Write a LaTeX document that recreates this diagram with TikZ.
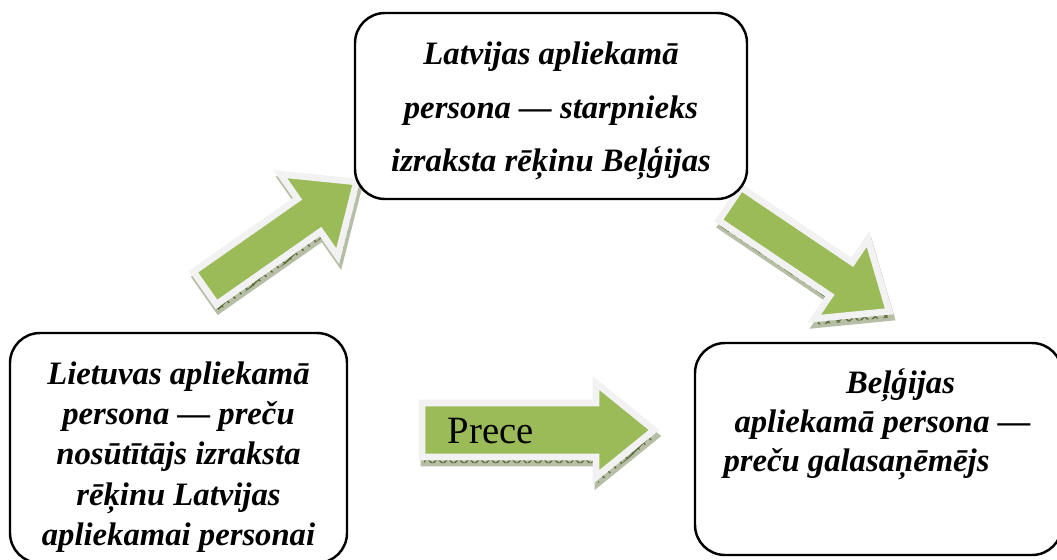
\documentclass[tikz,border=0pt]{standalone}
\usepackage{fontspec}
\setmainfont{Liberation Serif}
\usetikzlibrary{patterns}

\definecolor{arrowgreen}{HTML}{9BBB59}
\definecolor{arrowrim}{HTML}{F2F2F2}
\definecolor{shadegreen}{HTML}{5E6E3A}

\begin{document}
\begin{tikzpicture}[font=\fontsize{9.3}{10.8}\selectfont]

% Styles
\tikzset{
  frame/.style={draw, line width=0.7pt, rounded corners=0.3cm},
  partytext/.style={align=center, inner sep=0pt, font=\fontsize{9.3}{#1}\selectfont\bfseries\itshape},
  arrowbody/.style={fill=arrowgreen, draw=arrowrim, line width=1.9pt, line join=miter},
  arrowshade/.style={fill=shadegreen!45, draw=shadegreen!45, line width=1.9pt, line join=miter, postaction={pattern=crosshatch, pattern color=shadegreen}},
  pics/blockarrow/.style n args={4}{code={
    % #1 angle, #2 length, #3 shaft width, #4 head width
    \path[arrowshade, shift={(0.02,-0.06)}, rotate=#1]
      (0,-#3/2) -- (#2-0.58,-#3/2) -- (#2-0.58,-#4/2) -- (#2,0) -- (#2-0.58,#4/2) -- (#2-0.58,#3/2) -- (0,#3/2) -- cycle;
    \draw[arrowbody, rotate=#1]
      (0,-#3/2) -- (#2-0.58,-#3/2) -- (#2-0.58,-#4/2) -- (#2,0) -- (#2-0.58,#4/2) -- (#2-0.58,#3/2) -- (0,#3/2) -- cycle;
  }}
}

\useasboundingbox (0,0) rectangle (10.57,5.59);

% Arrows
\pic (toagent) at (2.05,2.71) {blockarrow={35}{1.85}{0.40}{1.00}};
\pic (tobuyer) at (7.30,3.55) {blockarrow={-34}{1.92}{0.40}{0.96}};
\pic (togoods) at (4.22,1.29) {blockarrow={0}{2.32}{0.54}{0.94}};
\node[anchor=base west, inner sep=0pt, font=\fontsize{11}{13}\selectfont] (goods) at (4.47,1.16) {Prece};

% Parties
\node[frame, minimum width=3.92cm, minimum height=1.86cm] (agent) at (5.51,4.53) {};
\node[partytext=15.3pt, yshift=-0.05cm] (agenttext) at (agent.center)
  {Latvijas apliekamā\\ persona — starpnieks\\ izraksta rēķinu Beļģijas};

\node[frame, minimum width=3.37cm, minimum height=2.30cm] (seller) at (1.785,1.11) {};
\node[partytext=11.5pt, yshift=-0.09cm] (sellertext) at (seller.center)
  {Lietuvas apliekamā\\ persona — preču\\ nosūtītājs izraksta\\ rēķinu Latvijas\\ apliekamai personai};

\node[frame, minimum width=3.67cm, minimum height=2.12cm] (buyer) at (8.785,1.10) {};
\node[partytext=11pt, yshift=0.25cm] (buyertext) at (buyer.center)
  {\hspace*{0.44cm}Beļģijas\\ \hspace*{0.08cm}apliekamā persona —\\ preču galasaņēmējs\hspace*{0.44cm}};

\end{tikzpicture}
\end{document}
